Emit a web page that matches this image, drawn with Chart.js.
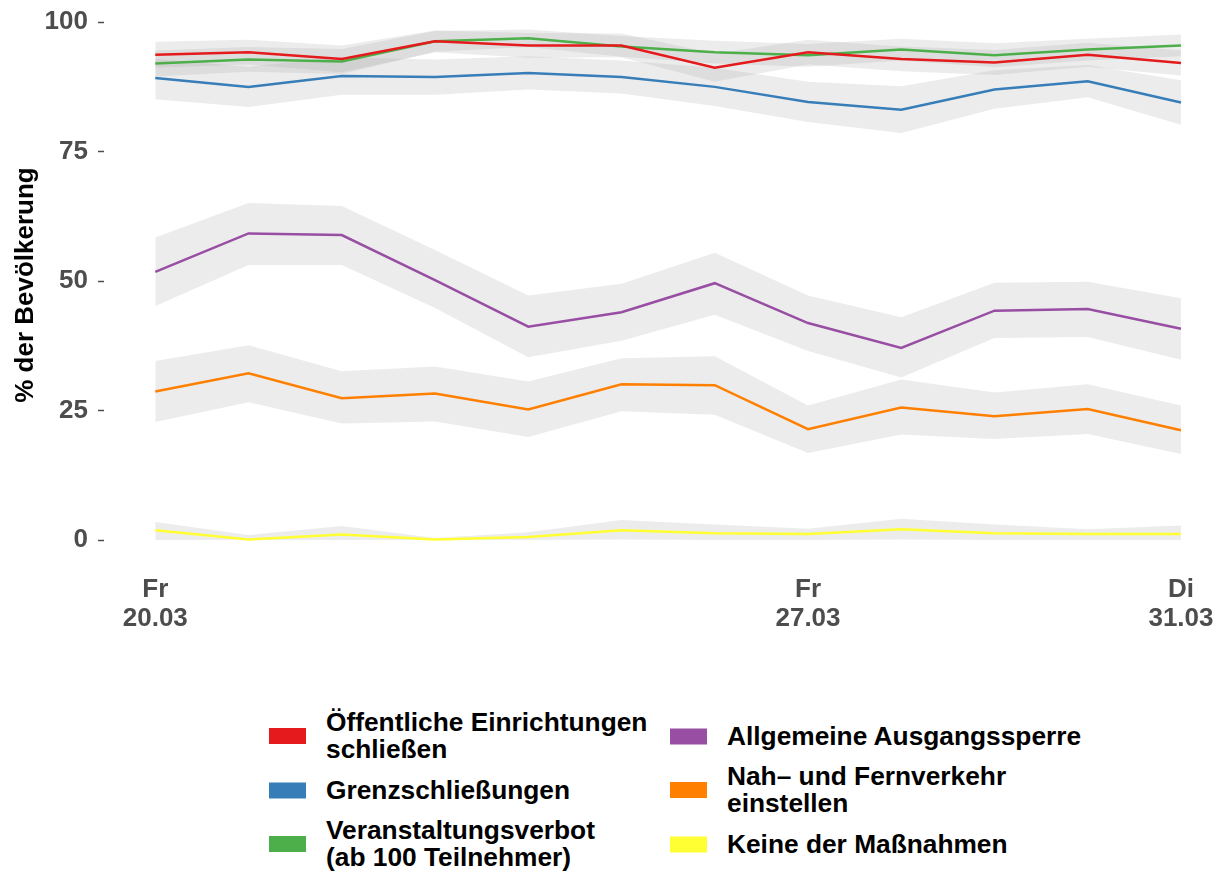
<!DOCTYPE html>
<html>
<head>
<meta charset="utf-8">
<script src="https://cdn.jsdelivr.net/npm/chart.js@4.4.1/dist/chart.umd.min.js"></script>
<style>
  body { margin: 0; background: #fff; font-family: 'Liberation Sans', Arial, sans-serif; }
  #wrap { position: relative; width: 1222px; height: 873px; }
  #box { position: absolute; left: 0; top: 0; width: 1222px; height: 633px; }
  .item { position: absolute; display: flex; align-items: center; transform: translateY(-50%); }
  .sw { width: 37px; height: 16px; margin-right: 20px; flex: none; }
  .txt { font-weight: bold; font-size: 26.3px; line-height: 27px; color: #000; white-space: nowrap; }
</style>
</head>
<body>
<div id="wrap">
  <div id="box"><canvas id="chart"></canvas></div>
  <div id="legend"></div>
</div>
<script>
// days 20.03 - 31.03
var days = ['20.03', '21.03', '22.03', '23.03', '24.03', '25.03', '26.03', '27.03', '28.03', '29.03', '30.03', '31.03'];
var weekdays = ['Fr', 'Sa', 'So', 'Mo', 'Di', 'Mi', 'Do', 'Fr', 'Sa', 'So', 'Mo', 'Di'];
var xTickIdx = [0, 7, 11];
var yTicks = [0, 25, 50, 75, 100];

var names = [
    ['Öffentliche Einrichtungen', 'schließen'],
    ['Grenzschließungen'],
    ['Veranstaltungsverbot', '(ab 100 Teilnehmer)'],
    ['Allgemeine Ausgangssperre'],
    ['Nah– und Fernverkehr', 'einstellen'],
    ['Keine der Maßnahmen']
];
var colors = ['#E41A1C', '#377EB8', '#4DAF4A', '#984EA3', '#FF7F00', '#FFFF33'];

var oeffentlich   = [93.7, 94.2, 92.9, 96.3, 95.5, 95.5, 91.2, 94.2, 92.9, 92.2, 93.7, 92.1];
var oeffentlichLo = [91.2, 91.8, 90.3, 94.2, 93.1, 93.2, 88.5, 91.8, 90.5, 89.8, 91.4, 89.7];
var oeffentlichHi = [96.2, 96.6, 95.5, 98.4, 97.9, 97.8, 93.9, 96.6, 95.3, 94.6, 96.0, 94.5];

var grenz   = [89.2, 87.5, 89.6, 89.4, 90.2, 89.4, 87.5, 84.6, 83.1, 87.0, 88.6, 84.5];
var grenzLo = [85.1, 83.6, 86.0, 86.0, 87.0, 86.2, 83.8, 80.7, 78.6, 83.3, 85.5, 80.2];
var grenzHi = [92.9, 91.4, 93.2, 92.8, 93.4, 92.6, 91.2, 88.5, 87.6, 90.7, 91.7, 88.8];

var veranst   = [92.0, 92.8, 92.4, 96.3, 96.9, 95.3, 94.2, 93.6, 94.7, 93.6, 94.7, 95.5];
var veranstLo = [89.5, 90.4, 90.0, 94.3, 95.2, 93.3, 92.0, 91.4, 92.6, 91.3, 92.6, 93.4];
var veranstHi = [94.5, 95.2, 94.8, 98.3, 98.6, 97.3, 96.4, 95.8, 96.8, 95.9, 96.8, 97.6];

var ausgang   = [51.8, 59.2, 58.9, 50.2, 41.2, 44.0, 49.6, 41.9, 37.1, 44.3, 44.6, 40.8];
var ausgangLo = [45.2, 53.1, 53.1, 44.8, 35.3, 38.5, 43.5, 36.5, 31.4, 39.0, 39.2, 34.8];
var ausgangHi = [58.4, 65.1, 64.5, 56.0, 47.2, 49.5, 55.5, 47.2, 43.0, 49.7, 49.9, 46.7];

var verkehr   = [28.7, 32.2, 27.4, 28.3, 25.2, 30.1, 29.9, 21.4, 25.6, 23.9, 25.3, 21.2];
var verkehrLo = [22.8, 26.6, 22.5, 22.9, 19.9, 24.9, 24.2, 16.8, 20.4, 19.5, 20.5, 16.6];
var verkehrHi = [34.6, 37.6, 32.6, 33.5, 30.6, 35.1, 35.5, 26.0, 31.0, 28.5, 30.1, 26.0];

var keine   = [1.9, 0.1, 1.1, 0.1, 0.6, 1.9, 1.3, 1.2, 2.1, 1.3, 1.2, 1.2];
var keineLo = [0.0, 0.0, 0.0, 0.0, 0.0, 0.1, 0.0, 0.0, 0.1, 0.0, 0.0, 0.0];
var keineHi = [3.5, 1.0, 2.7, 0.4, 1.5, 3.9, 3.0, 2.2, 4.1, 3.0, 2.1, 2.8];

var series = [
    [oeffentlich, oeffentlichLo, oeffentlichHi],
    [grenz, grenzLo, grenzHi],
    [veranst, veranstLo, veranstHi],
    [ausgang, ausgangLo, ausgangHi],
    [verkehr, verkehrLo, verkehrHi],
    [keine, keineLo, keineHi]
];

function pts(arr) {
    return arr.map(function(v, i) { return { x: i, y: v }; });
}

var datasets = [];
// lines first (drawn on top), yellow kept on top with order -1
series.forEach(function(s, k) {
    datasets.push({
        label: names[k].join(' '),
        data: pts(s[0]),
        borderColor: colors[k],
        borderWidth: 2.5,
        pointRadius: 0,
        fill: false,
        tension: 0,
        order: k === 5 ? -1 : 0
    });
});
// ribbons: upper filled down to lower
series.forEach(function(s, k) {
    datasets.push({
        label: 'hi' + k,
        data: pts(s[2]),
        borderWidth: 0,
        borderColor: 'rgba(0,0,0,0)',
        pointRadius: 0,
        backgroundColor: 'rgba(160,160,160,0.2)',
        fill: '+1',
        tension: 0,
        order: 1
    });
    datasets.push({
        label: 'lo' + k,
        data: pts(s[1]),
        borderWidth: 0,
        borderColor: 'rgba(0,0,0,0)',
        pointRadius: 0,
        fill: false,
        tension: 0,
        order: 1
    });
});

var tickFont = { family: "'Liberation Sans', Arial, sans-serif", weight: 'bold', size: 26 };

var ctx = document.getElementById('chart').getContext('2d');
var chart = new Chart(ctx, {
    type: 'line',
    data: { datasets: datasets },
    options: {
        responsive: true,
        maintainAspectRatio: false,
        animation: false,
        layout: { padding: { top: 4, left: 0, right: 0, bottom: 0 } },
        plugins: {
            legend: { display: false },
            tooltip: { enabled: false }
        },
        scales: {
            x: {
                type: 'linear',
                min: -0.55,
                max: 11.44,
                grid: { display: false },
                border: { display: false },
                afterBuildTicks: function(scale) {
                    scale.ticks = xTickIdx.map(function(v) { return { value: v }; });
                },
                afterFit: function(scale) {
                    scale.height = 67;
                    scale.paddingLeft = 0;
                    scale.paddingRight = 0;
                },
                ticks: {
                    maxRotation: 0,
                    autoSkip: false,
                    padding: 1,
                    color: '#4D4D4D',
                    font: Object.assign({ lineHeight: 1.115 }, tickFont),
                    callback: function(value) {
                        return [weekdays[value], days[value]];
                    }
                }
            },
            y: {
                min: -5,
                max: 103.5,
                border: { display: false },
                grid: {
                    drawOnChartArea: false,
                    drawTicks: true,
                    tickLength: 6,
                    tickColor: '#4D4D4D',
                    tickWidth: 1.5
                },
                afterBuildTicks: function(scale) {
                    scale.ticks = yTicks.map(function(v) { return { value: v }; });
                },
                afterFit: function(scale) {
                    scale.width = 104;
                    scale.paddingTop = 0;
                    scale.paddingBottom = 0;
                },
                ticks: {
                    padding: 10,
                    color: '#4D4D4D',
                    font: tickFont
                },
                title: {
                    display: true,
                    text: '% der Bevölkerung',
                    color: '#000',
                    padding: { top: 10, bottom: 0 },
                    font: { family: "'Liberation Sans', Arial, sans-serif", weight: 'bold', size: 26 }
                }
            }
        }
    }
});

// legend (two columns, like the ggplot guide)
var legendPos = [
    { x: 269, y: 736 }, { x: 269, y: 790 }, { x: 269, y: 844 },
    { x: 670, y: 736 }, { x: 670, y: 790 }, { x: 670, y: 844 }
];
var legend = document.getElementById('legend');
names.forEach(function(n, k) {
    var item = document.createElement('div');
    item.className = 'item';
    item.style.left = legendPos[k].x + 'px';
    item.style.top = legendPos[k].y + 'px';
    var sw = document.createElement('div');
    sw.className = 'sw';
    sw.style.background = colors[k];
    var txt = document.createElement('div');
    txt.className = 'txt';
    txt.innerHTML = n.join('<br>');
    item.appendChild(sw);
    item.appendChild(txt);
    legend.appendChild(item);
});
</script>
</body>
</html>
